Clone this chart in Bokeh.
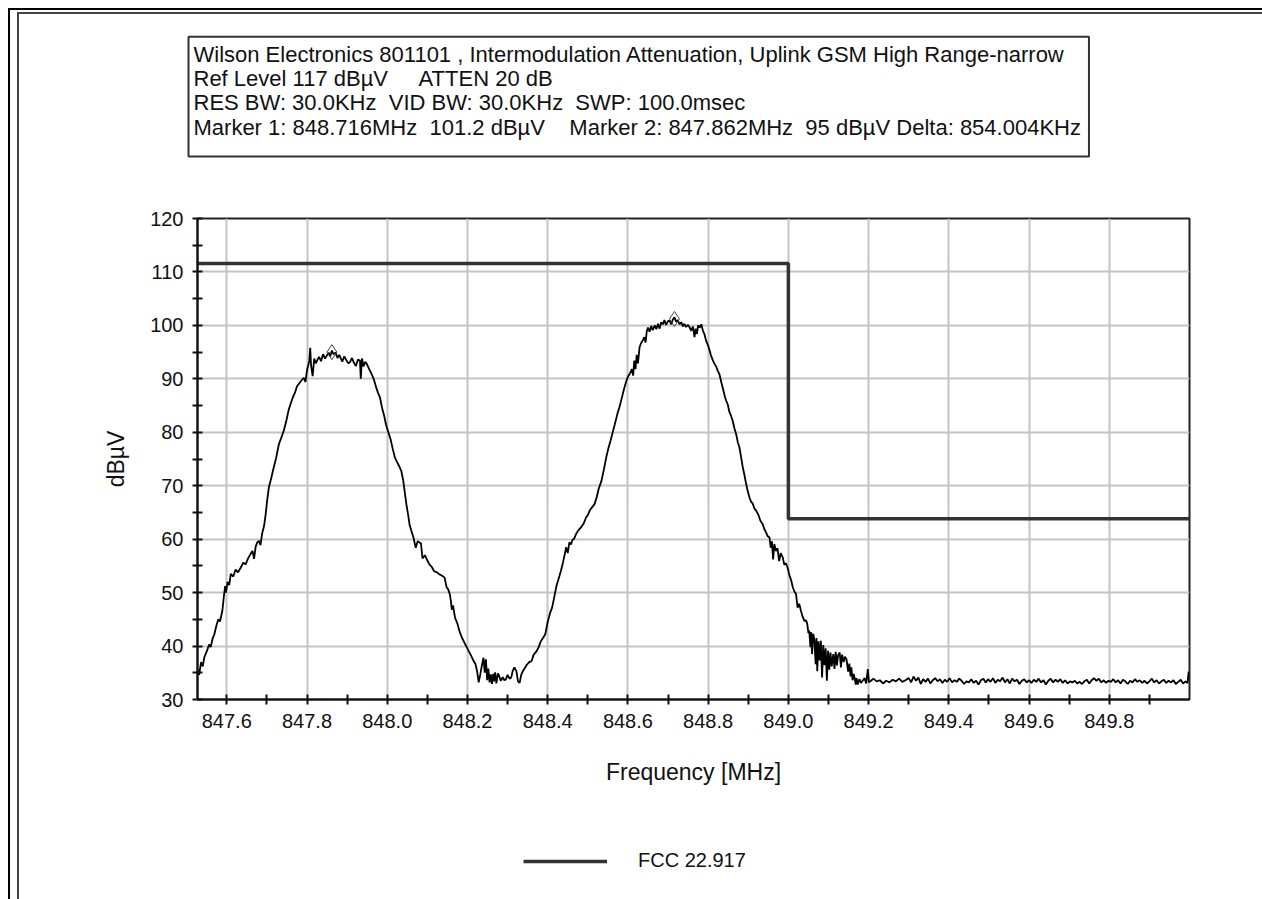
from bokeh.plotting import figure
from bokeh.layouts import column
from bokeh.models import (Range1d, FixedTicker, PrintfTickFormatter, Title, Legend,
                          LegendItem)
from bokeh.embed import file_html
from bokeh.resources import INLINE

NB = "\u00a0"
header_lines = [
    "Wilson Electronics 801101 , Intermodulation Attenuation, Uplink GSM High Range-narrow",
    "Ref Level 117 dB\u00b5V" + NB * 5 + "ATTEN 20 dB",
    "RES BW: 30.0KHz" + NB * 2 + "VID BW: 30.0KHz" + NB * 2 + "SWP: 100.0msec",
    "Marker 1: 848.716MHz" + NB * 2 + "101.2 dB\u00b5V" + NB * 4 + "Marker 2: 847.862MHz"
    + NB * 2 + "95 dB\u00b5V Delta: 854.004KHz",
]
x_title = "Frequency [MHz]"
y_title = "dB\u00b5V"
legend_label = "FCC 22.917"

x_ticks = [847.6, 847.8, 848.0, 848.2, 848.4, 848.6, 848.8, 849.0, 849.2, 849.4, 849.6, 849.8]
x_minor = [847.7, 847.9, 848.1, 848.3, 848.5, 848.7, 848.9, 849.1, 849.3, 849.5, 849.7, 849.9]
y_ticks = [30, 40, 50, 60, 70, 80, 90, 100, 110, 120]
y_minor = [35, 45, 55, 65, 75, 85, 95, 105, 115]

limit_freq = [847.527, 849.0, 849.0, 850.0]
limit_level = [111.6, 111.6, 63.8, 63.8]

marker_freq = [848.716, 847.862]
marker_level = [101.2, 95.0]

freq_mhz = [
    847.527, 847.531, 847.536, 847.540, 847.544, 847.550, 847.556, 847.560, 847.565, 847.569,
    847.574, 847.579, 847.583, 847.589, 847.593, 847.596, 847.598, 847.602, 847.606, 847.610,
    847.616, 847.622, 847.628, 847.635, 847.641, 847.647, 847.653, 847.659, 847.664, 847.668,
    847.672, 847.676, 847.680, 847.684, 847.688, 847.693, 847.697, 847.701, 847.705, 847.711,
    847.717, 847.723, 847.730, 847.736, 847.742, 847.748, 847.754, 847.759, 847.765, 847.770,
    847.775, 847.779, 847.785, 847.792, 847.796, 847.800, 847.804, 847.806, 847.808, 847.810,
    847.814, 847.818, 847.822, 847.825, 847.830, 847.835, 847.840, 847.845, 847.849, 847.854,
    847.858, 847.862, 847.866, 847.871, 847.876, 847.880, 847.883, 847.888, 847.893, 847.898,
    847.903, 847.907, 847.912, 847.917, 847.922, 847.927, 847.932, 847.934, 847.937, 847.941,
    847.945, 847.949, 847.955, 847.961, 847.967, 847.972, 847.977, 847.982, 847.987, 847.992,
    847.997, 848.002, 848.008, 848.014, 848.019, 848.024, 848.030, 848.035, 848.040, 848.044,
    848.048, 848.052, 848.056, 848.060, 848.065, 848.071, 848.076, 848.084, 848.088, 848.094,
    848.100, 848.105, 848.111, 848.117, 848.124, 848.130, 848.136, 848.143, 848.148, 848.152,
    848.156, 848.159, 848.161, 848.164, 848.169, 848.175, 848.180, 848.186, 848.192, 848.198,
    848.203, 848.209, 848.214, 848.220, 848.224, 848.228, 848.232, 848.236, 848.240, 848.243,
    848.246, 848.249, 848.252, 848.255, 848.258, 848.261, 848.264, 848.266, 848.269, 848.272,
    848.276, 848.279, 848.283, 848.288, 848.292, 848.296, 848.300, 848.305, 848.309, 848.313,
    848.317, 848.322, 848.326, 848.330, 848.334, 848.338, 848.343, 848.348, 848.354, 848.360,
    848.365, 848.371, 848.377, 848.383, 848.389, 848.394, 848.400, 848.406, 848.411, 848.417,
    848.422, 848.428, 848.433, 848.438, 848.442, 848.446, 848.450, 848.454, 848.458, 848.462,
    848.466, 848.471, 848.476, 848.483, 848.490, 848.496, 848.500, 848.505, 848.511, 848.517,
    848.522, 848.527, 848.534, 848.540, 848.546, 848.551, 848.557, 848.563, 848.567, 848.571,
    848.575, 848.579, 848.584, 848.590, 848.596, 848.600, 848.605, 848.610, 848.613, 848.616,
    848.619, 848.622, 848.625, 848.629, 848.633, 848.637, 848.641, 848.644, 848.647, 848.650,
    848.654, 848.658, 848.662, 848.667, 848.671, 848.675, 848.679, 848.683, 848.687, 848.691,
    848.695, 848.700, 848.704, 848.708, 848.712, 848.716, 848.720, 848.724, 848.729, 848.733,
    848.737, 848.741, 848.745, 848.750, 848.754, 848.758, 848.762, 848.766, 848.769, 848.772,
    848.775, 848.779, 848.783, 848.787, 848.791, 848.795, 848.799, 848.803, 848.807, 848.812,
    848.816, 848.820, 848.824, 848.828, 848.833, 848.838, 848.842, 848.845, 848.849, 848.853,
    848.857, 848.861, 848.866, 848.870, 848.874, 848.878, 848.882, 848.886, 848.890, 848.894,
    848.898, 848.903, 848.907, 848.911, 848.915, 848.920, 848.925, 848.930, 848.936, 848.940,
    848.944, 848.948, 848.953, 848.956, 848.959, 848.962, 848.965, 848.969, 848.973, 848.977,
    848.981, 848.986, 848.990, 848.994, 848.998, 849.002, 849.007, 849.011, 849.015, 849.019,
    849.023, 849.027, 849.031, 849.035, 849.040, 849.044, 849.047, 849.050, 849.052, 849.055,
    849.057, 849.059, 849.062, 849.065, 849.068, 849.070, 849.072, 849.075, 849.078, 849.081,
    849.084, 849.087, 849.090, 849.093, 849.096, 849.099, 849.102, 849.105, 849.108, 849.112,
    849.115, 849.118, 849.121, 849.124, 849.128, 849.131, 849.134, 849.138, 849.141, 849.145,
    849.149, 849.152, 849.155, 849.157, 849.160, 849.163, 849.165, 849.168, 849.170, 849.173,
    849.177, 849.181, 849.185, 849.190, 849.194, 849.198, 849.201, 849.206,
    849.212, 849.220, 849.228, 849.236, 849.244, 849.252, 849.260, 849.268, 849.276, 849.284,
    849.292, 849.300, 849.306, 849.312, 849.318, 849.324, 849.330, 849.336, 849.342, 849.348,
    849.354, 849.360, 849.366, 849.372, 849.378, 849.384, 849.390, 849.396, 849.402, 849.408,
    849.414, 849.420, 849.426, 849.432, 849.438, 849.444, 849.450, 849.456, 849.462, 849.468,
    849.474, 849.480, 849.486, 849.492, 849.498, 849.504, 849.510, 849.516, 849.522, 849.528,
    849.534, 849.540, 849.546, 849.552, 849.558, 849.564, 849.570, 849.576, 849.582, 849.588,
    849.594, 849.600, 849.606, 849.612, 849.618, 849.624, 849.630, 849.636, 849.642, 849.648,
    849.654, 849.660, 849.666, 849.672, 849.678, 849.684, 849.690, 849.696, 849.702, 849.708,
    849.714, 849.720, 849.726, 849.732, 849.738, 849.744, 849.750, 849.756, 849.762, 849.768,
    849.774, 849.780, 849.786, 849.792, 849.798, 849.804, 849.810, 849.816, 849.822, 849.828,
    849.834, 849.840, 849.846, 849.852, 849.858, 849.864, 849.870, 849.876, 849.882, 849.888,
    849.894, 849.900, 849.906, 849.912, 849.918, 849.924, 849.930, 849.936, 849.942, 849.948,
    849.954, 849.960, 849.966, 849.972, 849.978, 849.984, 849.990, 849.995, 849.998,
]

level_dbuv = [
    35.4, 34.6, 37.0, 36.2, 37.9, 39.0, 40.3, 39.8, 41.5, 42.2,
    43.8, 45.0, 44.6, 46.6, 49.5, 51.2, 50.0, 52.0, 51.4, 53.5,
    53.0, 54.3, 53.8, 54.7, 55.6, 55.3, 56.4, 57.2, 57.8, 56.3,
    58.6, 59.4, 59.7, 58.9, 61.0, 62.5, 64.7, 67.5, 69.7, 71.5,
    73.4, 75.2, 77.8, 79.0, 80.3, 82.0, 84.1, 85.3, 86.6, 87.4,
    88.6, 89.0, 89.6, 90.2, 89.4, 91.6, 92.8, 93.5, 95.8, 92.6,
    90.5, 93.8, 92.9, 93.4, 94.1, 93.3, 94.6, 93.8, 94.3, 94.9,
    94.2, 95.3, 94.6, 94.9, 93.9, 94.5, 94.0, 93.2, 94.2, 93.5,
    92.9, 93.1, 93.9, 93.0, 92.4, 93.6, 93.4, 90.0, 93.8, 92.3,
    93.2, 92.8, 91.8, 90.9, 89.8, 88.5, 87.4, 86.5, 84.6, 83.2,
    81.4, 80.2, 78.8, 76.8, 75.3, 74.5, 73.6, 72.8, 70.9, 68.6,
    66.4, 64.6, 62.6, 61.6, 60.4, 58.4, 59.6, 59.2, 56.4, 57.0,
    56.0, 55.3, 54.8, 54.0, 53.8, 53.4, 53.2, 52.8, 51.0, 50.6,
    49.7, 48.2, 46.8, 47.6, 45.3, 44.2, 42.8, 41.6, 40.7, 39.8,
    39.1, 38.2, 37.4, 36.6, 35.3, 33.2, 34.7, 36.4, 37.8, 35.0,
    37.5, 33.6, 35.8, 33.2, 34.7, 32.9, 34.8, 33.4, 35.1, 33.0,
    34.9, 34.4, 33.5, 34.2, 33.6, 33.8, 34.6, 33.9, 34.1, 35.4,
    36.0, 35.3, 33.4, 33.1, 34.6, 35.3, 35.9, 36.5, 37.0, 37.2,
    38.4, 38.9, 39.7, 40.9, 41.6, 42.2, 44.5, 46.2, 47.2, 49.4,
    51.3, 52.8, 54.1, 55.6, 57.0, 58.5, 57.4, 59.4, 59.0, 59.9,
    60.1, 61.0, 61.6, 62.2, 63.0, 64.1, 64.5, 65.4, 66.0, 66.6,
    67.8, 69.4, 70.9, 73.0, 75.3, 76.9, 78.5, 80.3, 81.4, 82.6,
    83.8, 84.7, 86.2, 88.0, 89.6, 90.4, 91.0, 91.8, 90.6, 93.4,
    91.8, 94.5, 92.9, 95.9, 96.7, 97.2, 97.8, 96.8, 98.9, 99.6,
    98.8, 99.9, 99.1, 100.0, 99.3, 100.3, 99.4, 100.6, 100.2, 101.0,
    100.1, 100.8, 100.9, 100.2, 101.1, 101.5, 100.7, 101.0, 100.2, 100.6,
    99.8, 100.3, 99.7, 100.1, 99.6, 99.0, 99.8, 97.8, 99.4, 98.4,
    100.0, 99.6, 100.2, 99.0, 98.3, 97.1, 96.4, 95.5, 94.4, 93.4,
    92.8, 92.3, 91.5, 90.9, 89.3, 87.8, 86.6, 85.9, 85.2, 83.8,
    83.1, 82.2, 80.6, 79.6, 78.1, 77.2, 75.4, 73.6, 72.2, 70.6,
    69.2, 67.8, 67.0, 66.7, 65.8, 65.3, 64.6, 63.5, 62.8, 61.9,
    61.3, 60.6, 60.3, 58.4, 59.6, 56.2, 59.1, 57.8, 58.3, 55.9,
    57.4, 56.6, 55.2, 55.5, 54.7, 53.4, 52.3, 51.0, 50.2, 49.8,
    47.2, 47.9, 46.7, 45.6, 44.7, 44.8, 44.2, 42.4, 42.9, 39.8,
    42.6, 38.5, 42.3, 41.0, 36.6, 41.5, 35.3, 40.9, 37.3, 41.0,
    34.1, 40.2, 36.4, 39.6, 33.5, 39.1, 35.6, 38.8, 36.2, 38.5,
    35.7, 38.9, 36.4, 38.3, 38.8, 36.0, 38.4, 37.0, 38.0, 37.5,
    35.2, 36.7, 34.3, 36.0, 33.6, 34.8, 34.1, 32.8, 34.0, 32.8,
    33.8, 33.1, 33.5, 34.0, 33.0, 35.7, 33.2, 33.5,
    33.9, 33.4, 33.6, 33.0, 33.5, 33.2, 33.7, 33.4, 33.9, 33.3,
    33.6, 34.0, 33.2, 34.3, 33.5, 34.1, 32.9, 33.8, 33.3, 33.9,
    33.0, 33.6, 34.0, 33.4, 33.8, 33.1, 33.7, 33.3, 34.0, 33.2,
    33.6, 33.3, 33.9, 33.5, 32.9, 33.4, 33.2, 33.8, 33.1, 33.5,
    32.8, 33.6, 33.9, 33.2, 33.8, 33.3, 34.0, 33.1, 33.7, 33.4,
    34.1, 33.2, 33.8, 33.0, 33.9, 33.4, 33.7, 32.9, 33.5, 33.8,
    33.2, 33.6, 33.1, 33.7, 33.3, 33.9, 33.2, 33.6, 32.8, 33.5,
    33.9, 33.2, 33.7, 33.3, 33.8, 33.1, 33.6, 33.0, 33.4, 33.2,
    33.5, 33.0, 33.3, 32.9, 33.4, 33.7, 33.0, 33.6, 34.0, 33.5,
    33.9, 33.2, 33.6, 33.1, 33.5, 33.3, 33.8, 33.2, 33.6, 33.0,
    33.7, 33.4, 32.9, 33.5, 33.2, 33.8, 33.3, 33.6, 33.1, 33.5,
    33.0, 33.4, 33.9, 33.2, 33.6, 33.0, 33.4, 33.7, 33.1, 33.5,
    33.2, 33.6, 32.9, 33.3, 33.7, 33.0, 33.4, 33.1, 35.2,
]

FONT = "Liberation Sans"
LIMIT_COLOR = "#333333"
LEFT_LINES = ("inset 8px 0 0 0 white, inset 10px 0 0 0 black, "
              "inset 17px 0 0 0 white, inset 19px 0 0 0 #444444")
TOP_LEFT_LINES = ("inset 8px 8px 0 0 white, inset 10px 10px 0 0 black, "
                  "inset 17px 12px 0 0 white, inset 19px 14px 0 0 #444444")


def strip(height):
    f = figure(width=1262, height=height, output_backend="svg", toolbar_location=None,
               x_range=Range1d(0, 1), y_range=Range1d(0, 1),
               x_axis_type=None, y_axis_type=None,
               min_border_left=197, min_border_right=73, min_border_top=0,
               min_border_bottom=0, background_fill_alpha=0, border_fill_alpha=0)
    f.grid.visible = False
    f.outline_line_color = None
    return f


# ---- header strip with the text box ----
ph = strip(200)
ph.styles = {"box-shadow": TOP_LEFT_LINES, "background-color": "white"}
header = Title(text="\n".join(header_lines), align="left", offset=-9, standoff=68,
               text_font=FONT, text_font_size="22px", text_font_style="normal",
               text_color="#111111", text_line_height=0.97,
               border_line_color="#333333", border_line_width=2,
               background_fill_color="white", padding=(5, 8, 5, 17))
ph.add_layout(header, "above")

# ---- main chart ----
p = figure(width=1262, height=630, output_backend="svg", toolbar_location=None,
           x_range=Range1d(847.527, 850.0), y_range=Range1d(30, 120),
           min_border_left=197, min_border_right=73, min_border_top=18, min_border_bottom=131,
           background_fill_color="white", border_fill_alpha=0)
p.styles = {"box-shadow": LEFT_LINES, "background-color": "white"}

p.outline_line_color = "#222222"
p.outline_line_width = 2

p.xgrid.ticker = FixedTicker(ticks=x_ticks)
p.ygrid.ticker = FixedTicker(ticks=y_ticks)
for g in (p.xgrid, p.ygrid):
    g.grid_line_color = "#c4c4c4"
    g.grid_line_width = 2

p.xaxis.ticker = FixedTicker(ticks=x_ticks, minor_ticks=x_minor)
p.xaxis.formatter = PrintfTickFormatter(format="%.1f")
p.yaxis.ticker = FixedTicker(ticks=y_ticks, minor_ticks=y_minor)
p.xaxis.axis_label = x_title
p.yaxis.axis_label = y_title
for ax in (p.xaxis, p.yaxis):
    ax.axis_line_color = "#111111"
    ax.axis_line_width = 2
    ax.major_tick_line_color = "#111111"
    ax.minor_tick_line_color = "#111111"
    ax.major_tick_line_width = 2
    ax.minor_tick_line_width = 2
    ax.major_tick_in = 5
    ax.major_tick_out = 5
    ax.minor_tick_in = 5
    ax.minor_tick_out = 5
    ax.major_label_text_font = FONT
    ax.major_label_text_font_size = "20px"
    ax.major_label_text_color = "#111111"
    ax.axis_label_text_font = FONT
    ax.axis_label_text_font_size = "23px"
    ax.axis_label_text_font_style = "normal"
    ax.axis_label_text_color = "#111111"
p.xaxis.major_label_standoff = 9
p.xaxis.axis_label_standoff = 28
p.yaxis.major_label_standoff = 9
p.yaxis.axis_label_standoff = 18

trace = p.line(freq_mhz, level_dbuv, line_color="black", line_width=1.8)
limit = p.line(limit_freq, limit_level, line_color=LIMIT_COLOR, line_width=3.5)
p.scatter(marker_freq, marker_level, marker="diamond", size=15, fill_color=None,
          line_color="#444444", line_width=1)

# ---- legend strip ----
pl = strip(69)
pl.styles = {"box-shadow": LEFT_LINES, "background-color": "white"}
# same limit series (outside this strip's ranges) so the legend shows its line style
limit_key = pl.line(limit_freq, limit_level, line_color=LIMIT_COLOR, line_width=3.5)
legend = Legend(items=[LegendItem(label=legend_label, renderers=[limit_key])],
                location=(326, 27), orientation="horizontal",
                glyph_width=84, glyph_height=20, label_standoff=31, padding=0, margin=0,
                border_line_color=None, background_fill_alpha=0,
                label_text_font=FONT, label_text_font_size="20px", label_text_color="#111111")
pl.add_layout(legend)

open("out.html", "w").write(file_html(column(ph, p, pl, spacing=0), INLINE))
